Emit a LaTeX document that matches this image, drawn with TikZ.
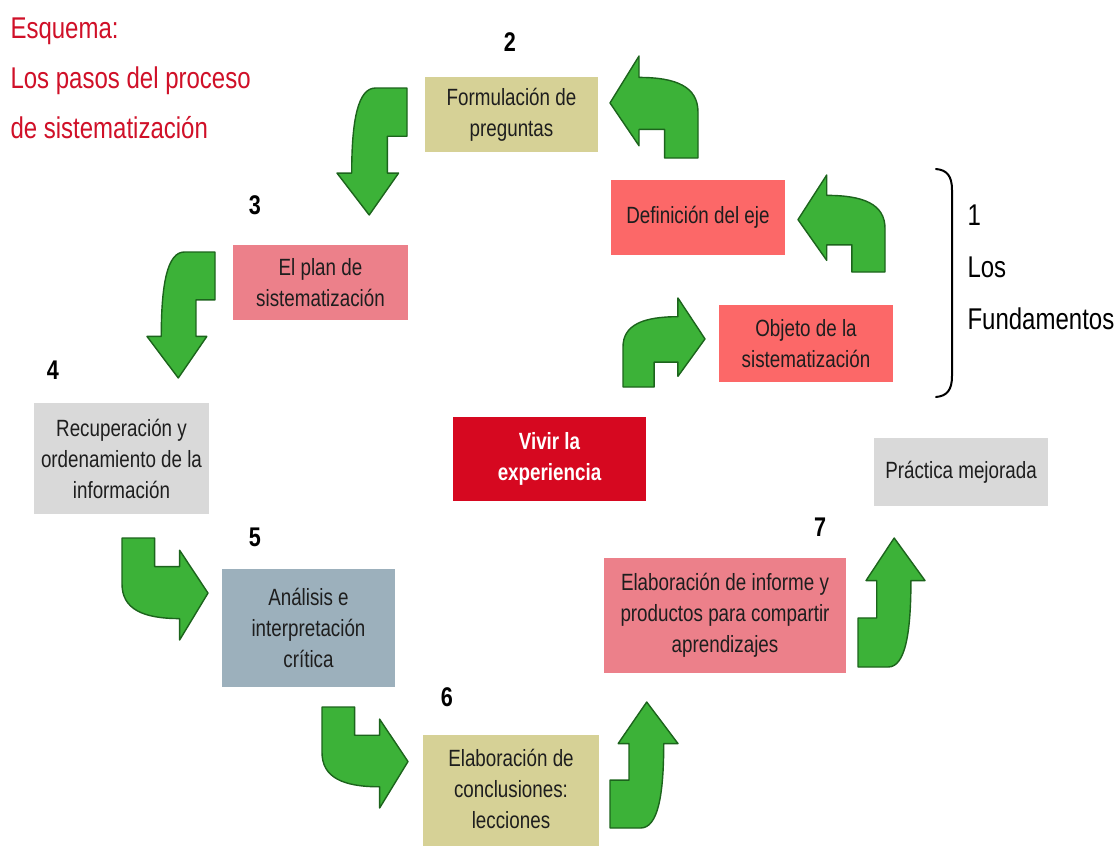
\documentclass[tikz,border=0pt]{standalone}
\usepackage{fontspec}
\setmainfont{Liberation Sans}[FakeStretch=0.8]
\usetikzlibrary{calc}
\definecolor{khaki}{RGB}{214,209,150}
\definecolor{salmon}{RGB}{252,104,104}
\definecolor{pinkb}{RGB}{236,128,138}
\definecolor{greyb}{RGB}{217,217,217}
\definecolor{blueg}{RGB}{156,176,188}
\definecolor{vivred}{RGB}{214,8,32}
\definecolor{titlered}{RGB}{208,16,40}
\definecolor{gfill}{RGB}{60,178,56}
\definecolor{gline}{RGB}{28,100,28}
\definecolor{txt}{RGB}{30,30,30}
\newcommand{\garrow}[3]{%
  \coordinate (O) at #1; \coordinate (U) at #2; \coordinate (V) at #3;
  \foreach \n/\a/\b in {a/0/0.46, b/0.33/0, c/0.33/0.21, d/0.75/0.21, e/1/0.3, f/1/0.55, g/1/1, h/0.62/1, i/0.62/0.72, l/0.33/0.72, m/0.33/0.88}
    {\coordinate (\n) at ($(O)+\a*(U)+\b*(V)$);}
  \draw[garrowstyle] (a) -- (b) -- (c) .. controls (d) and (e) .. (f) -- (g) -- (h) -- (i) -- (l) -- (m) -- cycle;
}
\begin{document}
\begin{tikzpicture}[x=1pt,y=-1pt,
  garrowstyle/.style={fill=gfill, draw=gline, line width=1.4pt, line join=round},
  box/.style={inner sep=0pt, align=center, text=txt, font=\fontsize{23.5}{31}\selectfont},
  num/.style={font=\bfseries\fontsize{27}{30}\selectfont, text=black}]
\useasboundingbox (0,0) rectangle (1120,846);
\clip (0,0) rectangle (1120,846);
\fill[white] (0,0) rectangle (1120,846);

% title
\node[anchor=west, align=left, text=titlered, font=\fontsize{30}{50}\selectfont] (title) at (7,78)
  {Esquema:\\Los pasos del proceso\\de sistematización};

% boxes
\node[box, fill=khaki, minimum width=173, minimum height=75] (b2) at (511.5,114.5) {Formulación de\\preguntas};
\node[box, fill=salmon, minimum width=174, minimum height=75] (b1a) at (698,217.5) {Definición del eje};
\node[box, fill=salmon, minimum width=174, minimum height=77] (b1b) at (806,343.5) {Objeto de la\\sistematización};
\node[box, fill=pinkb, minimum width=175, minimum height=75] (b3) at (320.5,282.5) {El plan de\\sistematización};
\node[box, fill=greyb, minimum width=175, minimum height=111] (b4) at (121.5,458.5) {Recuperación y\\ordenamiento de la\\información};
\node[box, fill=blueg, minimum width=173, minimum height=118] (b5) at (308.5,628) {Análisis e\\interpretación\\crítica};
\fill[khaki] (423,735) rectangle (599,870);
\node[box] (b6) at (511,789) {Elaboración de\\conclusiones:\\lecciones};
\node[box, fill=pinkb, minimum width=242, minimum height=115] (b7) at (725,615.5) {Elaboración de informe y\\productos para compartir\\aprendizajes};
\node[box, fill=greyb, minimum width=174, minimum height=68] (bP) at (961,472) {Práctica mejorada};
\node[box, fill=vivred, text=white, font=\bfseries\fontsize{23.5}{31}\selectfont, minimum width=193, minimum height=84] (bV) at (549.5,459) {Vivir la\\experiencia};

% step numbers
\node[num] (n2) at (510,42) {2};
\node[num] (n3) at (255,205) {3};
\node[num] (n4) at (53,370) {4};
\node[num] (n5) at (255,537) {5};
\node[num] (n6) at (447,697) {6};
\node[num] (n7) at (820,527) {7};

% bracket and label
\draw[line width=2pt, line cap=round] (936,169) .. controls (947,170) and (952,176) .. (952,190) -- (952,376) .. controls (952,390) and (947,396) .. (936,397);
\node[anchor=west, align=left, text=black, font=\fontsize{30}{52}\selectfont] (fund) at (964,267) {1\\Los\\Fundamentos};

% green bent arrows
\garrow{(610,56)}{(88,0)}{(0,102)}
\garrow{(798,175)}{(87,0)}{(0,97)}
\garrow{(705,298)}{(-82,0)}{(0,89)}
\garrow{(337,215)}{(0,-127)}{(70,0)}
\garrow{(147,378)}{(0,-126)}{(68,0)}
\garrow{(208,640)}{(-86,0)}{(0,-102)}
\garrow{(408,808)}{(-86,0)}{(0,-101)}
\garrow{(678,702)}{(0,126)}{(-68,0)}
\garrow{(925,538)}{(0,129)}{(-67,0)}
\end{tikzpicture}
\end{document}
